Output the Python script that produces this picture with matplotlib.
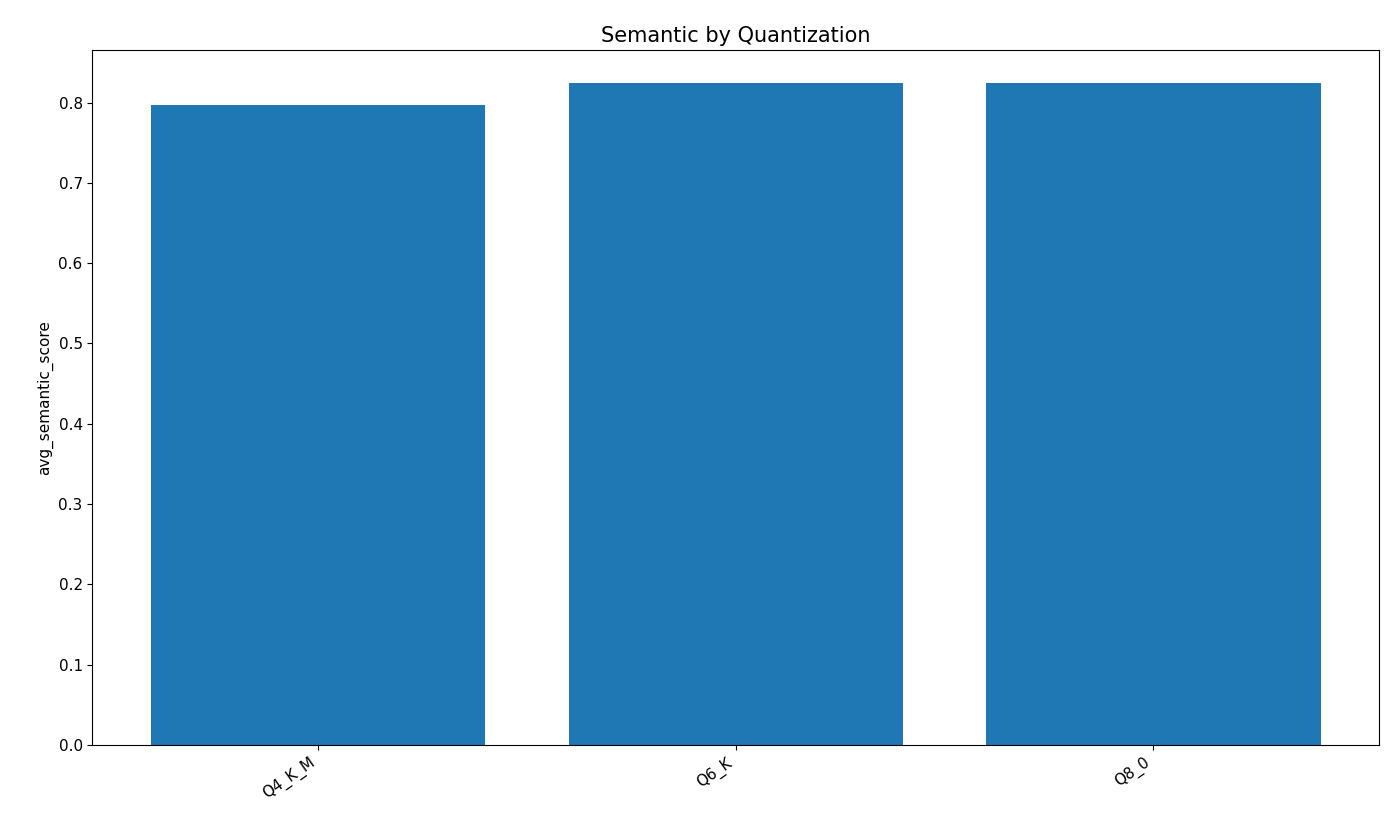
import matplotlib
matplotlib.use("Agg")
import matplotlib.pyplot as plt

categories = ["Q4_K_M", "Q6_K", "Q8_0"]
values = [0.7975, 0.8237, 0.8237]

fig, ax = plt.subplots(figsize=(14, 8.4), dpi=100)
ax.bar(categories, values, color="#1f77b4")
ax.set_title("Semantic by Quantization", fontsize=15)
ax.set_ylabel("avg_semantic_score", fontsize=11)
ax.tick_params(labelsize=11)
plt.setp(ax.get_xticklabels(), rotation=35, ha="right")
fig.subplots_adjust(left=0.066, right=0.985, top=0.94, bottom=0.113)
fig.savefig("out.png")
